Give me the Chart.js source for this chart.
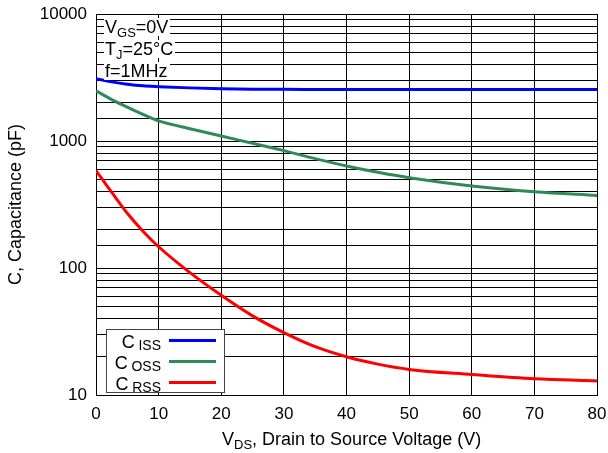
<!DOCTYPE html>
<html>
<head>
<meta charset="utf-8">
<script src="https://cdn.jsdelivr.net/npm/chart.js@4/dist/chart.umd.min.js"></script>
<style>
  body { margin: 0; background: #fff; font-family: "Liberation Sans", Arial, sans-serif; }
  #wrap { position: relative; width: 608px; height: 453px; }
  .lbl { position: absolute; color: #000; font-size: 18px; white-space: nowrap; line-height: 1; }
  .cond { background: #fff; padding: 0 2px 0 1px; }
  sub { font-size: 13px; vertical-align: -4px; line-height: 0; }
  #legend { position: absolute; left: 106px; top: 329px; width: 117px; height: 62px;
            background: #fff; border: 1px solid #444; }
  .row { position: absolute; right: 63px; font-size: 18px; line-height: 1; }
  .row sub { font-size: 14px; vertical-align: -2px; }
  .swatch { position: absolute; left: 62px; width: 47px; height: 3px; }
</style>
</head>
<body>
<div id="wrap">
  <canvas id="cap"></canvas>
  <div class="lbl cond" style="left:104px;top:18px">V<sub>GS</sub>=0V</div>
  <div class="lbl cond" style="left:104px;top:40px">T<sub>J</sub>=25°C</div>
  <div class="lbl cond" style="left:104px;top:62px">f=1MHz</div>
  <div class="lbl" style="left:222px;top:430px">V<sub>DS</sub>, Drain to Source Voltage (V)</div>
  <div id="legend">
    <div class="row" style="top:3px">C&#8201;<sub>ISS</sub></div>
    <div class="swatch" style="top:9px;background:#0000ff"></div>
    <div class="row" style="top:24px">C&#8201;<sub>OSS</sub></div>
    <div class="swatch" style="top:30px;background:#2e8b57"></div>
    <div class="row" style="top:45px">C&#8201;<sub>RSS</sub></div>
    <div class="swatch" style="top:51px;background:#ff0000"></div>
  </div>
</div>
<script>
// drain-source voltage (V)
var vds  = [0, 1, 2.5, 5, 7.5, 10, 15, 20, 25, 30, 35, 40, 45, 50, 60, 70, 80];
// capacitances (pF)
var ciss = [3100, 3020, 2920, 2800, 2720, 2680, 2620, 2580, 2560, 2550, 2545, 2540, 2540, 2540, 2540, 2540, 2540];
var coss = [2490, 2330, 2120, 1850, 1620, 1440, 1250, 1094, 960, 840, 726, 636, 567, 514, 443, 399, 373];
var crss = [584, 500, 395, 270, 195, 147, 92, 61, 42, 31, 24, 20, 17.5, 15.9, 14.5, 13.4, 12.9];
var yLabels = [10, 100, 1000, 10000];

function pts(arr) {
  return vds.map(function(v, i){ return {x: v, y: arr[i]}; });
}
function ds(label, arr, color) {
  return { label: label, data: pts(arr), borderColor: color, borderWidth: 3,
           pointRadius: 0, fill: false, cubicInterpolationMode: 'monotone' };
}

new Chart(document.getElementById("cap"), {
  type: 'line',
  data: {
    datasets: [
      ds('Ciss', ciss, '#0000ff'),
      ds('Coss', coss, '#2e8b57'),
      ds('Crss', crss, '#ff0000')
    ]
  },
  options: {
    responsive: true,
    maintainAspectRatio: false,
    animation: false,
    layout: { padding: { top: 14, right: 11, left: 0, bottom: 0 } },
    plugins: { legend: { display: false }, tooltip: { enabled: false } },
    scales: {
      x: {
        type: 'linear', min: 0, max: 80,
        ticks: { stepSize: 10, color: '#000', font: { size: 17, family: 'Liberation Sans' }, padding: 9 },
        grid: { color: '#000', drawTicks: false },
        border: { color: '#000' },
        afterFit: function(s){ s.height = 58; s.paddingLeft = 0; s.paddingRight = 0; }
      },
      y: {
        type: 'logarithmic', min: 10, max: 10000,
        ticks: {
          autoSkip: false, color: '#000', padding: 9,
          font: { size: 17, family: 'Liberation Sans' },
          callback: function(v){ return yLabels.indexOf(v) >= 0 ? String(v) : ''; }
        },
        grid: { color: '#000', drawTicks: false },
        border: { color: '#000' },
        title: { display: true, text: 'C, Capacitance (pF)', color: '#000',
                 font: { size: 18, family: 'Liberation Sans' }, padding: { top: 5, bottom: 0 } },
        afterFit: function(s){ s.width = 96; s.paddingTop = 0; s.paddingBottom = 0; }
      }
    }
  }
});
</script>
</body>
</html>
